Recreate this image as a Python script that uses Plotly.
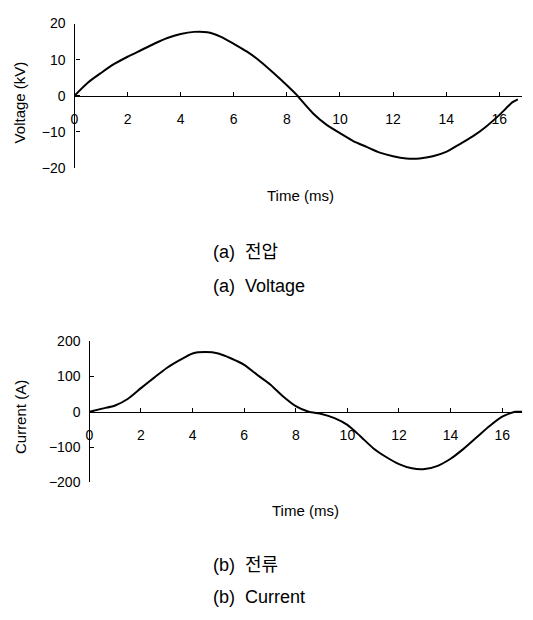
import plotly.graph_objects as go

# Voltage waveform (kV) vs time (ms)
time_v = [0, 0.5, 1, 1.5, 2, 2.5, 3, 3.5, 4, 4.5, 5, 5.5, 6, 6.5, 7, 7.5, 8, 8.4,
          8.5, 9, 9.5, 10, 10.5, 11, 11.5, 12, 12.5, 13, 13.5, 14, 14.5, 15, 15.5,
          16, 16.5, 16.7]
voltage = [0, 3.6, 6.3, 8.8, 10.8, 12.6, 14.4, 16.0, 17.1, 17.7, 17.6, 16.4, 14.4,
           12.2, 9.5, 6.3, 2.9, 0, -0.9, -5.0, -8.1, -10.4, -12.6, -14.2, -15.8,
           -16.8, -17.4, -17.4, -16.8, -15.6, -13.5, -11.3, -8.6, -5.4, -1.8, -1.0]

# Current waveform (A) vs time (ms)
time_i = [0, 0.5, 1, 1.5, 2, 2.5, 3, 3.5, 4, 4.5, 5, 5.5, 6, 6.5, 7, 7.5, 8, 8.5,
          9, 9.5, 10, 10.5, 11, 11.5, 12, 12.5, 13, 13.5, 14, 14.5, 15, 15.5, 16,
          16.5, 16.8]
current = [0, 9, 18, 37, 67, 96, 124, 146, 165, 169, 165, 151, 133, 105, 78, 44,
           16, 0, -6, -18, -37, -69, -103, -128, -148, -160, -162, -153, -133,
           -105, -73, -41, -14, 0, 0]

x_ticks = [0, 2, 4, 6, 8, 10, 12, 14, 16]
v_ticks = [-20, -10, 0, 10, 20]
i_ticks = [-200, -100, 0, 100, 200]

W, H = 533, 620
FONT = "Liberation Sans, Arial, sans-serif"
KFONT = "Liberation Sans, Noto Sans CJK KR, sans-serif"

fig = go.Figure()
fig.add_trace(go.Scatter(x=time_v, y=voltage, mode="lines",
                         line=dict(color="black", width=2, shape="spline", smoothing=0.6),
                         xaxis="x", yaxis="y", showlegend=False))
fig.add_trace(go.Scatter(x=time_i, y=current, mode="lines",
                         line=dict(color="black", width=2, shape="spline", smoothing=0.6),
                         xaxis="x2", yaxis="y2", showlegend=False))

def px_x(p):
    return p / W

def px_y(p):
    return 1 - p / H

common_x = dict(showline=True, linecolor="black", linewidth=1.2, ticks="inside",
                ticklen=4, tickcolor="black", showgrid=False, zeroline=False,
                tickvals=x_ticks, tickfont=dict(family=FONT, size=14, color="black"),
                ticklabelstandoff=10, fixedrange=True)
common_y = dict(showline=True, linecolor="black", linewidth=1.2, ticks="inside",
                ticklen=4, tickcolor="black", showgrid=False, zeroline=False,
                tickfont=dict(family=FONT, size=14, color="black"),
                ticklabelstandoff=6, fixedrange=True)

fig.update_layout(
    width=W, height=H,
    margin=dict(l=0, r=0, t=0, b=0),
    paper_bgcolor="white", plot_bgcolor="white",
    xaxis=dict(domain=[px_x(71), px_x(522)], range=[0, 16.86], anchor="free",
               position=px_y(90), **common_x),
    yaxis=dict(domain=[px_y(164), px_y(16)], range=[-20, 20], anchor="free",
               position=px_x(71), tickvals=v_ticks, **common_y),
    xaxis2=dict(domain=[px_x(86), px_x(522)], range=[0, 16.77], anchor="free",
                position=px_y(415), **common_x),
    yaxis2=dict(domain=[px_y(487), px_y(342)], range=[-200, 200], anchor="free",
                position=px_x(86), tickvals=i_ticks, **common_y),
)

ann = [
    dict(text="Voltage (kV)", x=px_x(16), y=px_y(97), textangle=-90, size=15),
    dict(text="Time (ms)", x=px_x(299), y=px_y(192), textangle=0, size=15),
    dict(text="Current (A)", x=px_x(16), y=px_y(420), textangle=-90, size=15),
    dict(text="Time (ms)", x=px_x(304), y=px_y(516), textangle=0, size=15),
]
for a in ann:
    fig.add_annotation(text=a["text"], x=a["x"], y=a["y"], xref="paper", yref="paper",
                       showarrow=False, textangle=a["textangle"],
                       font=dict(family=FONT, size=a["size"], color="black"),
                       xanchor="center", yanchor="middle")

captions = [("(a)  전압", 250), ("(a)  Voltage", 285), ("(b)  전류", 572), ("(b)  Current", 605)]
for txt, yy in captions:
    fig.add_annotation(text=txt, x=px_x(209), y=px_y(yy), xref="paper", yref="paper",
                       showarrow=False, xanchor="left", yanchor="middle",
                       font=dict(family=KFONT, size=18, color="black"))

fig.write_html("out.html", config={"displayModeBar": False},
               post_script="document.body.style.margin='0';")
